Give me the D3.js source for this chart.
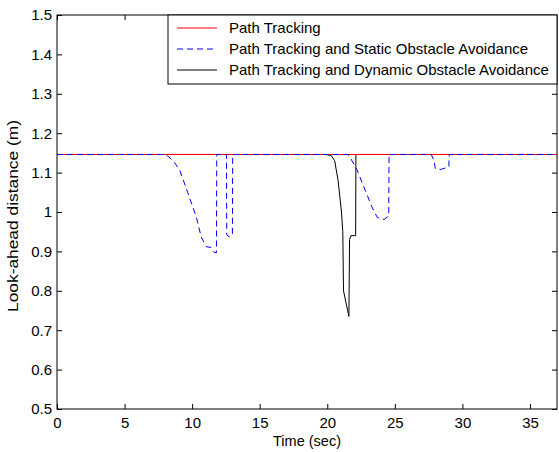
<!DOCTYPE html>
<html><head><meta charset="utf-8">
<script src="https://cdn.jsdelivr.net/npm/d3@7"></script>
<style>body{margin:0;background:#fff}svg{display:block}text{font-family:"Liberation Sans",Arial,sans-serif}</style>
</head><body><svg id="c" width="559" height="452"></svg>
<script>
const xTicks = [0,5,10,15,20,25,30,35];
const yTicks = [0.5,0.6,0.7,0.8,0.9,1,1.1,1.2,1.3,1.4,1.5];
const seriesNames = ["Path Tracking","Path Tracking and Static Obstacle Avoidance","Path Tracking and Dynamic Obstacle Avoidance"];
const redT = [0,37];
const redV = [1.146,1.146];
const blueT = [0,7.8,8.2,8.6,9.07,9.67,10.3,10.67,11.04,11.4,11.65,11.8,11.82,12.54,12.56,12.75,12.98,13.0,21.5,21.7,22.2,22.8,23.3,23.7,24.2,24.55,24.57,27.7,27.9,28.0,28.4,29.0,29.02,37];
const blueV = [1.146,1.146,1.142,1.13,1.107,1.05,0.988,0.937,0.912,0.91,0.897,0.897,1.146,1.146,0.942,0.937,0.942,1.146,1.146,1.138,1.107,1.056,1.013,0.986,0.981,0.99,1.146,1.146,1.13,1.11,1.108,1.115,1.146,1.146];
const blackT = [0,19.9,20.3,20.55,20.8,21.05,21.15,21.2,21.6,21.65,21.75,22.1,22.12,37];
const blackV = [1.146,1.146,1.143,1.13,1.08,1.0,0.95,0.80,0.735,0.93,0.94,0.94,1.146,1.146];

const svg = d3.select("#c");
const L=57, R=557, T=15, B=409;
const x = d3.scaleLinear().domain([0,37]).range([L,R]);
const y = d3.scaleLinear().domain([0.5,1.5]).range([B,T]);

const line = d3.line().x(d=>x(d[0])).y(d=>y(d[1]));
const zip = (a,b)=>a.map((t,i)=>[t,b[i]]);

const g = svg.append("g");
g.append("path").datum(zip(blackT,blackV)).attr("d",line).attr("fill","none").attr("stroke","#000").attr("stroke-width",1);
g.append("path").datum(zip(redT,redV)).attr("d",line).attr("fill","none").attr("stroke","#ff0000").attr("stroke-width",1);
g.append("path").datum(zip(blueT,blueV)).attr("d",line).attr("fill","none").attr("stroke","#0000ff").attr("stroke-width",1).attr("stroke-dasharray","6,4");

const fs = "15px";
const ax = (axis, tr) => {
  const a = svg.append("g").attr("transform",tr).call(axis);
  a.select(".domain").remove();
  a.selectAll("line").attr("stroke","#000");
  a.selectAll("text").attr("fill","#000").style("font-size",fs).style("font-family","Liberation Sans, Arial, sans-serif");
  return a;
};
ax(d3.axisBottom(x).tickValues(xTicks).tickSizeInner(-5).tickSizeOuter(0).tickPadding(8).tickFormat(d3.format("d")), `translate(0,${B})`);
ax(d3.axisTop(x).tickValues(xTicks).tickSizeInner(-5).tickSizeOuter(0).tickFormat(""), `translate(0,${T})`);
ax(d3.axisLeft(y).tickValues(yTicks).tickSizeInner(-5).tickSizeOuter(0).tickPadding(5).tickFormat(d=>d3.format("")(d)), `translate(${L},0)`);
ax(d3.axisRight(y).tickValues(yTicks).tickSizeInner(-5).tickSizeOuter(0).tickFormat(""), `translate(${R},0)`);

svg.append("rect").attr("x",L).attr("y",T).attr("width",R-L).attr("height",B-T).attr("fill","none").attr("stroke","#000").attr("stroke-width",1);

// legend
const lg = svg.append("g");
lg.append("rect").attr("x",168).attr("y",T).attr("width",R-168).attr("height",69).attr("fill","#fff").attr("stroke","#000").attr("stroke-width",1);
const styles = [{c:"#ff0000",d:null},{c:"#0000ff",d:"6,4"},{c:"#000",d:null}];
const rowY = [28,49,70];
seriesNames.forEach((n,i)=>{
  lg.append("line").attr("x1",177).attr("x2",217).attr("y1",rowY[i]).attr("y2",rowY[i]).attr("stroke",styles[i].c).attr("stroke-width",1).attr("stroke-dasharray",styles[i].d);
  lg.append("text").attr("x",229).attr("y",rowY[i]).attr("dy","0.35em").style("font-size","15px").text(n);
});

svg.append("text").attr("x",(L+R)/2).attr("y",446).attr("text-anchor","middle").style("font-size","14.5px").text("Time (sec)");
svg.append("text").attr("transform",`translate(18,216) rotate(-90)`).attr("text-anchor","middle").style("font-size","14px")
  .attr("textLength",192).attr("lengthAdjust","spacingAndGlyphs").text("Look-ahead distance (m)");
</script></body></html>
